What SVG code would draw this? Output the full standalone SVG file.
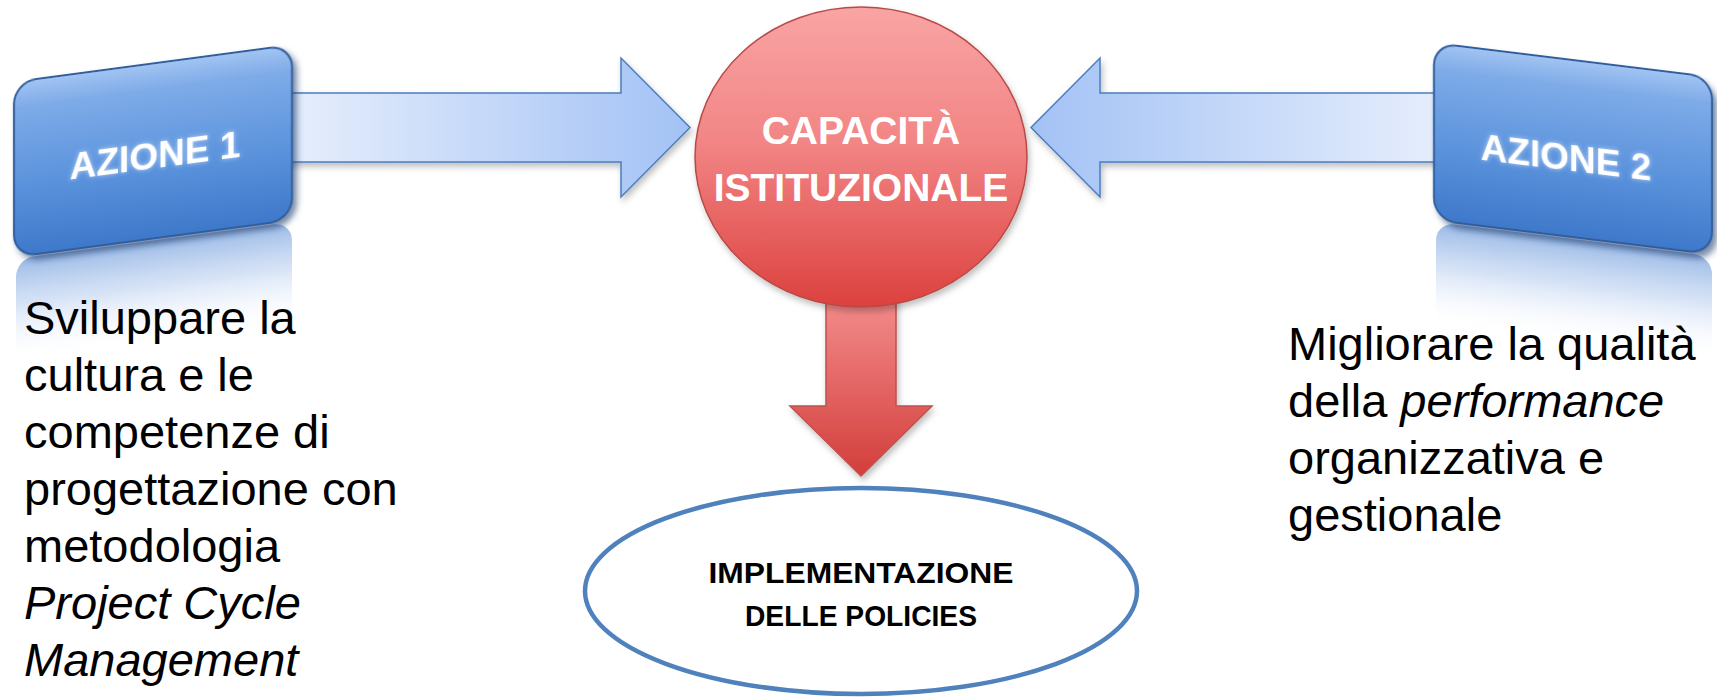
<svg xmlns="http://www.w3.org/2000/svg" width="1717" height="697" viewBox="0 0 1717 697">
<style>
.body{font-family:"Liberation Sans",Arial,sans-serif;font-size:47px;fill:#000}
.it{font-style:italic}
.boxlbl{font-family:"Liberation Sans",Arial,sans-serif;font-weight:bold;font-size:37px;fill:#fff;text-anchor:middle}
.cap{font-family:"Liberation Sans",Arial,sans-serif;font-weight:bold;font-size:39px;fill:#fff;text-anchor:middle}
.impl{font-family:"Liberation Sans",Arial,sans-serif;font-weight:bold;font-size:30px;fill:#000;text-anchor:middle}
.arrowB{stroke:#4A7EC2;stroke-width:1.5}
.box{stroke:#2F5E9C;stroke-width:2}
</style>
<defs>
<linearGradient id="gArrowL" x1="0" y1="0" x2="1" y2="0">
<stop offset="0" stop-color="#E6EEFC"/>
<stop offset="1" stop-color="#A3C2F5"/>
</linearGradient>
<linearGradient id="gArrowR" x1="1" y1="0" x2="0" y2="0">
<stop offset="0" stop-color="#E6EEFC"/>
<stop offset="1" stop-color="#A3C2F5"/>
</linearGradient>
<linearGradient id="gDown" x1="0" y1="0" x2="0" y2="1">
<stop offset="0" stop-color="#F79494"/>
<stop offset="1" stop-color="#D23E3B"/>
</linearGradient>
<linearGradient id="gCircle" x1="0" y1="0" x2="0" y2="1">
<stop offset="0" stop-color="#F9A4A4"/>
<stop offset="0.45" stop-color="#F28585"/>
<stop offset="1" stop-color="#DC413E"/>
</linearGradient>
<linearGradient id="gBox" x1="0" y1="0" x2="0" y2="1">
<stop offset="0" stop-color="#A2C4F2"/>
<stop offset="0.15" stop-color="#7EABE8"/>
<stop offset="0.6" stop-color="#5A92DC"/>
<stop offset="1" stop-color="#3F78CA"/>
</linearGradient>
<linearGradient id="gRefl" x1="0" y1="0" x2="0" y2="1">
<stop offset="0" stop-color="#6F9BDB" stop-opacity="0.7"/>
<stop offset="0.45" stop-color="#A8C3EC" stop-opacity="0.45"/>
<stop offset="1" stop-color="#FFFFFF" stop-opacity="0"/>
</linearGradient>
<filter id="shadow" x="-10%" y="-10%" width="125%" height="130%">
<feDropShadow dx="2" dy="4" stdDeviation="3" flood-color="#000" flood-opacity="0.25"/>
</filter>
<filter id="boxShadow" x="-10%" y="-10%" width="125%" height="130%">
<feDropShadow dx="4" dy="5" stdDeviation="3" flood-color="#1E3E6E" flood-opacity="0.6"/>
</filter>
<filter id="glow" x="-10%" y="-30%" width="120%" height="160%">
<feGaussianBlur in="SourceAlpha" stdDeviation="2.5" result="b"/>
<feFlood flood-color="#DDEBFF" flood-opacity="0.7"/>
<feComposite in2="b" operator="in" result="g"/>
<feMerge><feMergeNode in="g"/><feMergeNode in="SourceGraphic"/></feMerge>
</filter>
</defs>
<rect x="0" y="0" width="1717" height="697" fill="#fff"/>

<g id="connectors">
<path class="arrowB" fill="url(#gArrowL)" filter="url(#shadow)" d="M288 93 H621 V58 L690 127.5 L621 197 V162 H288 Z"/>
<path class="arrowB" fill="url(#gArrowR)" filter="url(#shadow)" d="M1440 93 H1100 V58 L1031 127.5 L1100 197 V162 H1440 Z"/>
<path fill="url(#gDown)" stroke="#C0504D" stroke-width="1.5" filter="url(#shadow)" d="M826 280 V406 H790 L861 476 L932 406 H896 V280 Z"/>
</g>

<g id="node-azione1" transform="translate(14 0) skewY(-7.6) translate(-14 0)">
<rect x="16" y="259" width="276" height="105" rx="18" fill="url(#gRefl)"/>
<rect class="box" x="14" y="82" width="278" height="175" rx="22" fill="url(#gBox)" filter="url(#boxShadow)"/>
<text class="boxlbl" x="155" y="187" filter="url(#glow)">AZIONE 1</text>
</g>

<g id="node-azione2" transform="translate(1434 0) skewY(7) translate(-1434 0)">
<rect x="1436" y="222" width="276" height="105" rx="18" fill="url(#gRefl)"/>
<rect class="box" x="1434" y="43" width="278" height="177" rx="22" fill="url(#gBox)" filter="url(#boxShadow)"/>
<text class="boxlbl" x="1566" y="154" filter="url(#glow)">AZIONE 2</text>
</g>

<g id="node-capacita">
<ellipse cx="861" cy="157" rx="166" ry="150" fill="url(#gCircle)" stroke="#B84A47" stroke-width="1.5" filter="url(#shadow)"/>
<text class="cap" x="861" y="144">CAPACITÀ</text>
<text class="cap" x="861" y="201">ISTITUZIONALE</text>
</g>

<g id="node-implementazione">
<ellipse cx="861" cy="591" rx="276" ry="103" fill="#fff" stroke="#4F81BD" stroke-width="4.5"/>
<text class="impl" x="861" y="583" textLength="305" lengthAdjust="spacingAndGlyphs">IMPLEMENTAZIONE</text>
<text class="impl" x="861" y="626" textLength="232" lengthAdjust="spacingAndGlyphs">DELLE POLICIES</text>
</g>

<g id="text-azione1">
<text class="body" x="24" y="334">Sviluppare la</text>
<text class="body" x="24" y="391">cultura e le</text>
<text class="body" x="24" y="448">competenze di</text>
<text class="body" x="24" y="505">progettazione con</text>
<text class="body" x="24" y="562">metodologia</text>
<text class="body it" x="24" y="619">Project Cycle</text>
<text class="body it" x="24" y="676">Management</text>
</g>

<g id="text-azione2">
<text class="body" x="1288" y="360">Migliorare la qualità</text>
<text class="body" x="1288" y="417">della <tspan class="it">performance</tspan></text>
<text class="body" x="1288" y="474">organizzativa e</text>
<text class="body" x="1288" y="531">gestionale</text>
</g>
</svg>
